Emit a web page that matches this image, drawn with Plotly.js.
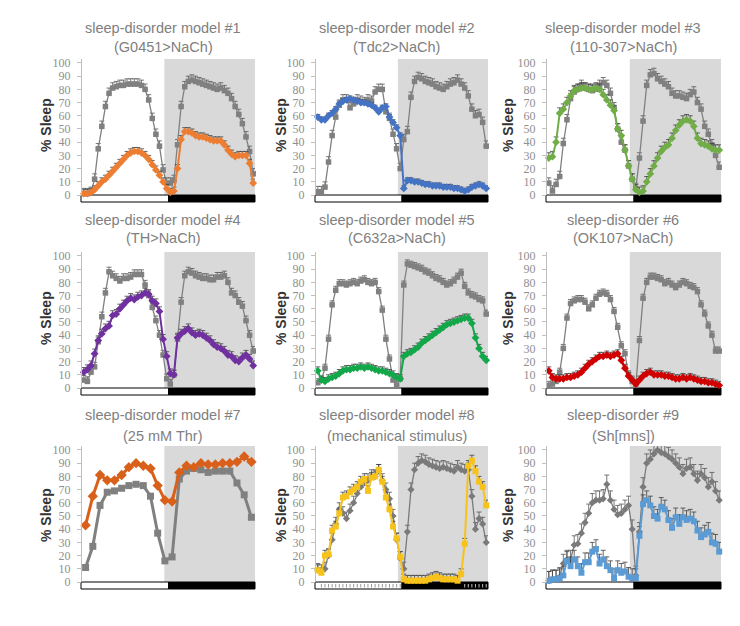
<!DOCTYPE html>
<html><head><meta charset="utf-8">
<script src="https://cdn.plot.ly/plotly-3.0.1.min.js"></script>
<style>html,body{margin:0;padding:0;background:#fff}#chart{width:740px;height:626px}</style>
</head><body><div id="chart"></div>
<script>
// ZT hours (30-min bins and 1-h bins)
const hours48 = [0,0.5,1,1.5,2,2.5,3,3.5,4,4.5,5,5.5,6,6.5,7,7.5,8,8.5,9,9.5,10,10.5,11,11.5,
  12,12.5,13,13.5,14,14.5,15,15.5,16,16.5,17,17.5,18,18.5,19,19.5,20,20.5,21,21.5,22,22.5,23,23.5];
const hours24 = [0,1,2,3,4,5,6,7,8,9,10,11,12,13,14,15,16,17,18,19,20,21,22,23];
const yTicks = [0,10,20,30,40,50,60,70,80,90,100];

// % sleep, control (grey) and sleep-disorder model (coloured)
const p1Control = [1,1,2,12,35,52,67,77,81,82,83,83,84,84,84,84,83,80,72,58,46,37,19,9, 9,11,38,67,82,86,87,86,85,84,83,82,81,80,81,79,77,73,67,61,54,44,33,16];
const p1Model   = [1,1,2,4,7,10,12,15,18,21,24,27,30,32,33,33,32,30,27,23,19,15,10,5, 2,3,20,42,48,48,47,45,44,44,43,42,41,41,41,38,34,31,29,30,30,30,24,9];
const p2Control = [2.5,2.5,6,25,45,59,68,72,72,66,69,72,71,70,72,71,78,80,80,63,58,46,35,20, 42,48,74,86,89,88,86,85,84,82,81,80,82,84,85,87,84,81,75,65,60,61,55,37];
const p2Model   = [59,57,57,60,62,65,69,71,72,73,72,71,70,70,69,68,66,63,66,67,59,55,51,45, 5,11,11,10,10,9,8,8,7,7,7,6,6,6,5,5,4,3,4,6,7,8,7,5];
const p3Control = [9,3,8,14,39,57,73,78,80,83,81,80,79,80,83,85,83,77,66,50,40,34,22,12, 5,28,56,83,91,92,88,86,84,82,77,75,75,74,73,76,78,70,65,52,46,38,30,21];
const p3Model   = [28,29,40,62,65,70,75,79,80,81,81,80,80,81,80,76,72,68,64,50,45,34,22,12, 4,2,3,10,16,22,28,33,36,38,43,49,53,56,57,56,52,43,39,38,37,35,34,34];
const p4Control = [6,5,12,16,35,54,72,88,85,83,81,83,83,84,86,86,86,78,70,61,51,40,25,7, 3,10,37,65,85,88,87,85,84,83,83,82,82,84,84,85,80,72,70,65,62,51,40,28];
const p4Model   = [12,14,17,26,36,41,45,47,55,56,60,63,66,68,67,69,70,72,71,66,64,58,37,24, 11,10,38,41,43,45,42,40,41,40,38,36,33,31,30,28,25,24,21,20,23,25,22,17];
const p5Control = [4,6,15,37,63,74,79,79,78,79,80,79,81,82,80,79,80,73,59,37,22,6,2,7, 78,94,93,92,91,90,88,87,85,83,82,80,78,79,81,84,87,77,72,70,69,67,66,56];
const p5Model   = [13,6,5,7,8,9,11,13,14,14,15,15,16,15,16,15,14,13,13,12,11,10,8,7, 24,26,27,29,31,34,36,38,40,42,44,46,48,49,50,51,52,53,53,49,38,30,24,21];
const p6Control = [2,3,5,12,30,53,64,66,67,67,65,60,63,68,71,72,71,67,58,46,32,26,10,5, 2,36,68,80,84,84,83,82,79,80,78,76,78,80,79,77,76,73,63,56,47,40,28,28];
const p6Model   = [13,8,7,7,7,8,8,9,10,12,15,18,20,22,24,24,25,24,25,26,21,15,9,6, 3,6,9,11,12,10,10,10,9,9,8,7,7,8,7,8,7,6,5,5,4,4,3,2];
const p7Control = [11,27,58,68,69,71,73,74,73,65,37,16, 19,78,84,86,85,83,84,84,84,75,66,49];
const p7Model   = [43,65,81,77,77,81,87,90,88,86,73,62, 61,83,88,87,90,89,89,90,90,91,95,91];
const p8Control = [9,8,10,20,32,44,55,52,48,54,60,67,72,75,77,80,80,84,77,70,63,50,32,18, 10,38,70,85,90,92,91,89,88,87,86,87,86,85,84,87,85,84,85,65,40,48,44,30];
const p8Model   = [9,7,20,21,39,42,52,64,65,68,70,72,76,78,69,79,80,85,76,64,55,42,33,19, 2,1,1,1,1,1,1,2,3,4,3,2,2,2,2,1,6,29,88,92,84,76,72,58];
const p9Control = [1,2,2,4,14,17,17,28,29,37,45,52,60,62,62,63,74,62,55,51,52,55,58,40, 5,38,72,90,93,97,100,98,97,95,93,90,87,82,86,87,82,77,82,79,72,76,69,62];
const p9Model   = [1,2,2,3,5,16,12,17,12,7,15,15,23,25,14,17,12,9,3,9,7,8,4,3, 3,35,59,62,58,50,48,57,55,47,41,49,44,49,47,48,46,39,34,36,38,30,29,23];

const titles1 = ['sleep-disorder model #1','sleep-disorder model #2','sleep-disorder model #3',
  'sleep-disorder model #4','sleep-disorder model #5','sleep-disorder #6',
  'sleep-disorder model #7','sleep-disorder model #8','sleep-disorder #9'];
const titles2 = ['(G0451>NaCh)','(Tdc2>NaCh)','(110-307>NaCh)','(TH>NaCh)','(C632a>NaCh)',
  '(OK107>NaCh)','(25 mM Thr)','(mechanical stimulus)','(Sh[mns])'];
const yLabel = '% Sleep';

// ---- styling / layout ----
const W = 740, H = 626;
const colPx = [[82,255],[316,488],[547,721]];
const rowPx = [[59,195],[252,388],[446,582]];
const titleX = [163,397,623];
const titleY = [[28,47],[220,238],[415,436]];
const ylabX = [46,281,508];
const ylabY = [125,318,515];

const panels = [
 {x:hours48, ctrl:p1Control, model:p1Model, mc:'#ED7D31', ms:'diamond', cs:'square', cw:1.3, mw:2, ce:4, me:3},
 {x:hours48, ctrl:p2Control, model:p2Model, mc:'#4472C4', ms:'diamond', cs:'square', cw:1.3, mw:2, ce:4, me:2},
 {x:hours48, ctrl:p3Control, model:p3Model, mc:'#70AD47', ms:'diamond', cs:'square', cw:1.3, mw:2, ce:4, me:4},
 {x:hours48, ctrl:p4Control, model:p4Model, mc:'#7030A0', ms:'diamond', cs:'square', cw:1.3, mw:2, ce:3.5, me:3.5},
 {x:hours48, ctrl:p5Control, model:p5Model, mc:'#12A84A', ms:'diamond', cs:'square', cw:1.3, mw:2, ce:3, me:3},
 {x:hours48, ctrl:p6Control, model:p6Model, mc:'#D00000', ms:'diamond', cs:'square', cw:1.3, mw:2.5, ce:3, me:3},
 {x:hours24, ctrl:p7Control, model:p7Model, mc:'#D9601A', ms:'diamond', cs:'square', cw:3, mw:3, ce:0, me:0},
 {x:hours48, ctrl:p8Control, model:p8Model, mc:'#F7C21A', ms:'square', cs:'diamond', cw:1.3, mw:2, ce:5, me:4},
 {x:hours48, ctrl:p9Control, model:p9Model, mc:'#5B9BD5', ms:'square', cs:'diamond', cw:1.3, mw:2, ce:7, me:7}
];

const px2x = p => p / W;
const py2y = p => 1 - p / H;

const data = [], shapes = [], annotations = [];
const layout = {
  width: W, height: H, margin:{l:0,r:0,t:0,b:0},
  paper_bgcolor:'#ffffff', plot_bgcolor:'rgba(0,0,0,0)',
  showlegend:false, font:{family:'Liberation Sans, Arial, sans-serif'}
};

panels.forEach((p, k) => {
  const r = Math.floor(k/3), c = k % 3;
  const xa = k === 0 ? 'x' : 'x' + (k+1);
  const ya = k === 0 ? 'y' : 'y' + (k+1);
  const step = p.x[1] - p.x[0];
  const rng = [p.x[0] - step/2, p.x[p.x.length-1] + step/2];
  const [X0, X1] = colPx[c];
  const [Ytop, Y0] = rowPx[r];
  layout['xaxis' + (k ? k+1 : '')] = {
    domain:[px2x(X0), px2x(X1)], range:rng, anchor:ya,
    showline:false, showgrid:false, zeroline:false, showticklabels:false, ticks:'', fixedrange:true
  };
  layout['yaxis' + (k ? k+1 : '')] = {
    domain:[py2y(Y0), py2y(Ytop)], range:[0,103], anchor:xa,
    showline:true, linecolor:'#bfbfbf', linewidth:1, showgrid:false, zeroline:false,
    ticks:'outside', ticklen:4, tickcolor:'#bfbfbf', tickvals:yTicks, ticktext:yTicks.map(String),
    ticklabelstandoff:4,
    tickfont:{family:'Liberation Serif, Times New Roman, serif', size:12, color:'#8f8f8f'}, fixedrange:true
  };
  const toPx = h => X0 + (h - rng[0])/(rng[1]-rng[0])*(X1-X0);
  const mid = toPx(12 - step/2);
  // night shading
  shapes.push({type:'rect', xref:'paper', yref:'paper', layer:'below',
    x0:px2x(X0 + 0.476*(X1-X0)), x1:px2x(X1), y0:py2y(Y0), y1:py2y(Ytop),
    fillcolor:'#d9d9d9', line:{width:0}});
  // light / dark bar
  shapes.push({type:'rect', xref:'paper', yref:'paper', layer:'below',
    x0:px2x(X0-1), x1:px2x(mid), y0:py2y(Y0+7), y1:py2y(Y0),
    fillcolor:'#ffffff', line:{color:'#000000', width:1}});
  shapes.push({type:'rect', xref:'paper', yref:'paper', layer:'below',
    x0:px2x(mid), x1:px2x(X1), y0:py2y(Y0+7), y1:py2y(Y0),
    fillcolor:'#000000', line:{color:'#000000', width:1}});
  if (k === 7) {
    p.x.forEach(h => {
      if (h > 0 && h < 12) {
        shapes.push({type:'line', xref:'paper', yref:'paper', layer:'below',
          x0:px2x(toPx(h)), x1:px2x(toPx(h)), y0:py2y(Y0+5.5), y1:py2y(Y0+2),
          line:{color:'#9a9a9a', width:1}});
      } else if (h >= 20.5) {
        shapes.push({type:'line', xref:'paper', yref:'paper', layer:'below',
          x0:px2x(toPx(h)), x1:px2x(toPx(h)), y0:py2y(Y0+5.5), y1:py2y(Y0+2),
          line:{color:'#bdbdbd', width:1}});
      }
    });
  }
  const grey = k >= 7 ? '#7a7a7a' : '#808080';
  data.push({
    x:p.x, y:p.ctrl, xaxis:xa, yaxis:ya, type:'scatter', mode:'lines+markers', cliponaxis:false,
    line:{color:grey, width:p.cw}, marker:{symbol:p.cs, size:k===6?7:5.5, color:grey},
    error_y: p.ce ? {type:'constant', symmetric:false, value:p.ce, valueminus:0, color:'#555555', thickness:0.8, width:2.5} : {visible:false}
  });
  data.push({
    x:p.x, y:p.model, xaxis:xa, yaxis:ya, type:'scatter', mode:'lines+markers', cliponaxis:false,
    line:{color:p.mc, width:p.mw}, marker:{symbol:p.ms, size:k===6?8:6, color:p.mc},
    error_y: p.me ? {type:'constant', symmetric:false, value:p.me, valueminus:0, color:'#404040', thickness:0.8, width:2.5} : {visible:false}
  });
  annotations.push({xref:'paper', yref:'paper', x:px2x(titleX[c]), y:py2y(titleY[r][0]),
    xanchor:'center', yanchor:'middle', showarrow:false, text:titles1[k],
    font:{family:'Liberation Sans, Arial, sans-serif', size:14.5, color:'#808080'}});
  annotations.push({xref:'paper', yref:'paper', x:px2x(titleX[c]), y:py2y(titleY[r][1]),
    xanchor:'center', yanchor:'middle', showarrow:false, text:titles2[k],
    font:{family:'Liberation Sans, Arial, sans-serif', size:14.5, color:'#808080'}});
  annotations.push({xref:'paper', yref:'paper', x:px2x(ylabX[c]), y:py2y(ylabY[r]),
    xanchor:'center', yanchor:'middle', showarrow:false, text:yLabel, textangle:-90,
    font:{family:'Liberation Sans, Arial, sans-serif', size:14, color:'#333333', weight:'bold'}});
});

layout.shapes = shapes;
layout.annotations = annotations;
Plotly.newPlot('chart', data, layout, {displayModeBar:false, staticPlot:true});
</script>
</body></html>
